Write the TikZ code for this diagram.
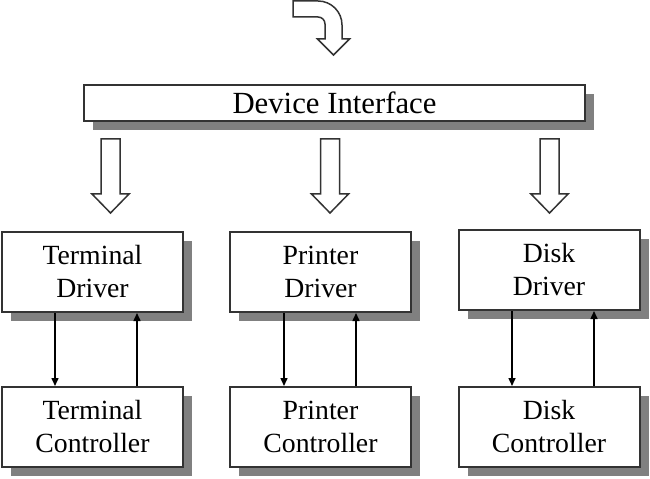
\documentclass[tikz,border=0pt]{standalone}
\usepackage{fontspec}
\setmainfont{Liberation Serif}
\usetikzlibrary{arrows.meta,calc,shadows}
\newcommand{\hollowarrow}[1]{\begin{scope}[shift={(#1)}]
  \draw[line width=0.6pt,draw=black!80,fill=white] (-9.5,0) -- (9.5,0) -- (9.5,-55)
    -- (18.5,-55) -- (0,-74) -- (-18.5,-55) -- (-9.5,-55) -- cycle;\end{scope}}

\begin{document}
\begin{tikzpicture}[x=0.4pt,y=0.4pt,
  box/.style={draw=black!80,line width=0.8pt,fill=white,align=center,inner sep=0pt,
    minimum width=72.4pt,minimum height=32pt,font=\fontsize{11.1}{13.2}\selectfont,
    drop shadow={shadow xshift=3.6pt,shadow yshift=-3.6pt,fill=black!50,opacity=1}},
  sig/.style={-{Triangle[length=3.2pt,width=2.8pt]},line width=0.6pt}]
\useasboundingbox (0,0) rectangle (650,-478);
% incoming request
\draw[line width=0.6pt,draw=black!80,fill=white] (293,-1) -- (318,-1)
  arc[start angle=90,end angle=0,radius=24] -- (342,-39) -- (349.5,-39) -- (333.5,-55)
  -- (317.5,-39) -- (325,-39) -- (325,-24) arc[start angle=0,end angle=90,radius=7]
  -- (293,-17) -- cycle;
\node[box,minimum width=200.4pt,minimum height=14.4pt,font=\fontsize{12.3}{14}\selectfont]
  (iface) at (334.5,-103) {Device Interface};
\hollowarrow{110.5,-139}\hollowarrow{330,-139}\hollowarrow{549.5,-139}
% drivers and controllers
\node[box] (tdrv) at (92.5,-272) {Terminal\\Driver};
\node[box] (pdrv) at (320.5,-272) {Printer\\Driver};
\node[box] (ddrv) at (549,-270) {Disk\\Driver};
\node[box] (tctl) at (92.5,-427) {Terminal\\Controller};
\node[box] (pctl) at (320.5,-427) {Printer\\Controller};
\node[box] (dctl) at (549,-427) {Disk\\Controller};
\foreach \n/\a/\b in {t/54/136,p/55/127,d/54.5/136.5}{
  \draw[sig] ($(\n drv.south west)+(\a,0)$) -- ($(\n ctl.north west)+(\a,0)$);
  \draw[sig] ($(\n ctl.north west)+(\b,0)$) -- ($(\n drv.south west)+(\b,0)$);
}
\end{tikzpicture}
\end{document}
